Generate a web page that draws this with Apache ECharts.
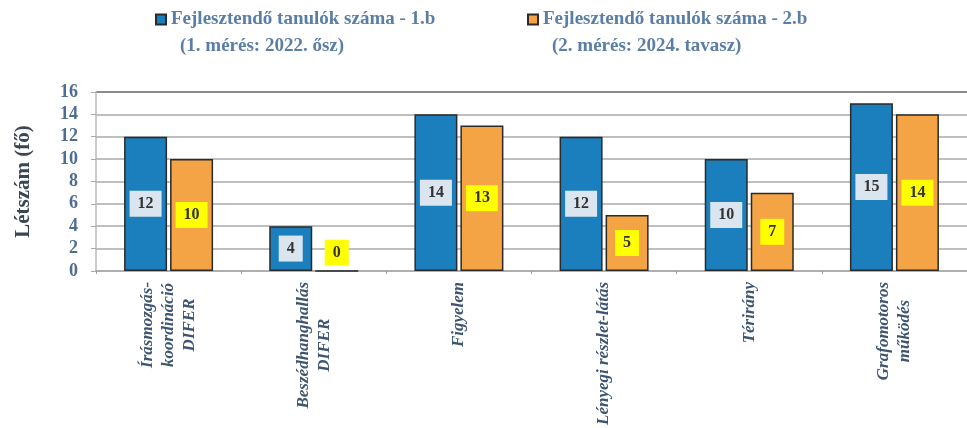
<!DOCTYPE html>
<html><head><meta charset="utf-8">
<script src="https://cdn.jsdelivr.net/npm/echarts@6/dist/echarts.min.js"></script>
<style>html,body{margin:0;padding:0;background:#fff}#c{width:967px;height:428px}</style>
</head><body><div id="c"></div>
<script>
const categories = ["Írásmozgás-\nkoordináció\nDIFER", "Beszédhanghallás\nDIFER", "Figyelem", "Lényegi részlet-látás", "Térirány", "Grafomotoros\nműködés"];
const seriesNames = ["Fejlesztendő tanulók száma - 1.b\n(1. mérés: 2022. ősz)", "Fejlesztendő tanulók száma - 2.b\n(2. mérés: 2024. tavasz)"];
const values1b = [12, 4, 14, 12, 10, 15];
const values2b = [10, 0, 13, 5, 7, 14];
const yMin = 0, yMax = 16, yInterval = 2;
const yAxisName = "Létszám (fő)";

const SERIF = '"Liberation Serif", "DejaVu Serif", serif';
const chart = echarts.init(document.getElementById('c'), null, {renderer: 'canvas'});

function toData(arr) {
  return arr.map(v => v === 0 ? {value: v, label: {position: 'insideBottom', distance: 6}} : v);
}
function legendCfg(idx, left) {
  return {
    data: [seriesNames[idx]], left: left, top: 10, padding: 0,
    itemWidth: 10, itemHeight: 10, icon: 'rect',
    formatter: name => { const p = name.split('\n'); return '{a|' + p[0] + '}\n{b|' + p[1] + '}'; },
    textStyle: {
      color: '#5b7ea6', fontFamily: SERIF, fontWeight: 'bold', fontSize: 19,
      padding: [27, 0, 0, 0],
      rich: {
        a: {color: '#5b7ea6', fontFamily: SERIF, fontWeight: 'bold', fontSize: 19, lineHeight: 27},
        b: {color: '#5b7ea6', fontFamily: SERIF, fontWeight: 'bold', fontSize: 19, lineHeight: 27, padding: [0, 0, 0, 9]}
      }
    }
  };
}
const labelCommon = {
  show: true, position: 'inside', color: '#333', fontFamily: SERIF, fontWeight: 'bold', fontSize: 16,
  padding: [5, 8], formatter: '{c}'
};
const option = {
  animation: false,
  backgroundColor: '#fff',
  legend: [legendCfg(0, 155), legendCfg(1, 527)],
  grid: {left: 96, top: 92, width: 879, height: 181},
  xAxis: {
    type: 'category', data: categories,
    axisLine: {lineStyle: {color: '#aaa', width: 1.5}},
    axisTick: {show: true, length: 3, lineStyle: {color: '#999'}},
    axisLabel: {
      rotate: 90, margin: 11, interval: 0,
      formatter: v => v.split('\n').map(s => '{c|' + s + '}').join('\n'),
      rich: {c: {align: 'center', color: '#3d5570', fontFamily: SERIF, fontWeight: 'bold', fontStyle: 'italic', fontSize: 17, lineHeight: 21}}
    }
  },
  yAxis: {
    type: 'value', min: yMin, max: yMax, interval: yInterval,
    name: yAxisName, nameLocation: 'middle', nameGap: 62, nameRotate: 90,
    nameTextStyle: {color: '#3a4655', fontFamily: SERIF, fontWeight: 'bold', fontSize: 21},
    axisLine: {show: true, lineStyle: {color: '#bbb', width: 1.5}},
    axisTick: {show: true, length: 5, lineStyle: {color: '#aaa'}},
    axisLabel: {color: '#4d6d92', fontFamily: SERIF, fontWeight: 'bold', fontSize: 18, margin: 18},
    splitLine: {lineStyle: {color: ['#aaa', '#aaa', '#aaa', '#aaa', '#aaa', '#aaa', '#aaa', '#aaa', '#666'], width: 1.5}}
  },
  series: [
    {
      name: seriesNames[0], type: 'bar', data: toData(values1b), barWidth: 43, barGap: '7%',
      itemStyle: {color: '#1b7fbd', borderColor: '#2a2a2a', borderWidth: 1.5},
      label: Object.assign({}, labelCommon, {backgroundColor: '#dbe5ef'})
    },
    {
      name: seriesNames[1], type: 'bar', data: toData(values2b), barWidth: 43,
      itemStyle: {color: '#f5a445', borderColor: '#2a2a2a', borderWidth: 1.5},
      label: Object.assign({}, labelCommon, {backgroundColor: '#ffff00'})
    }
  ]
};
chart.setOption(option);
</script>
</body></html>
